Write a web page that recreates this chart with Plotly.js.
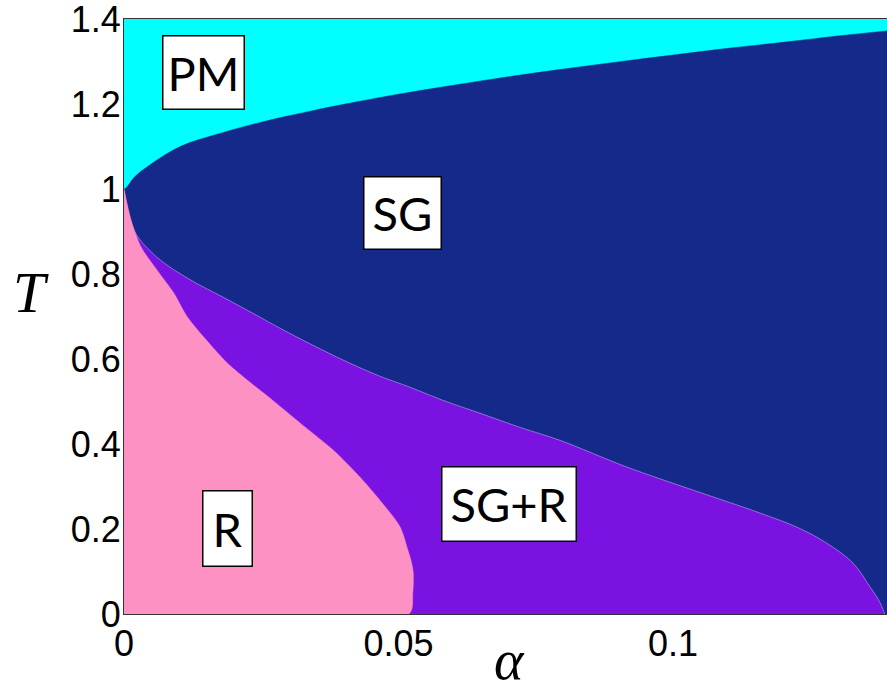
<!DOCTYPE html>
<html>
<head>
<meta charset="utf-8">
<script src="https://cdn.plot.ly/plotly-3.0.1.min.js"></script>
<style>html,body{margin:0;padding:0;background:#fff;}#chart{width:887px;height:681px;}</style>
</head>
<body>
<div id="chart"></div>
<script>
// PM / SG boundary
const alphaPM = [0, 0.0005, 0.002, 0.005, 0.0089, 0.012, 0.016, 0.02, 0.025, 0.03, 0.035, 0.04, 0.05, 0.06, 0.07, 0.08, 0.09, 0.1, 0.11, 0.12, 0.13, 0.139];
const tempPM  = [1.0, 1.005, 1.03, 1.06, 1.092, 1.11, 1.126, 1.141, 1.158, 1.173, 1.187, 1.2, 1.224, 1.245, 1.265, 1.283, 1.300, 1.316, 1.332, 1.346, 1.361, 1.373];

// SG / SG+R boundary
const alphaSG = [0, 0.0018, 0.006, 0.0122, 0.0182, 0.0242, 0.030, 0.0399, 0.0466, 0.0521, 0.0581, 0.0648, 0.0720, 0.0794, 0.0916, 0.1036, 0.1158, 0.1230, 0.1280, 0.1328, 0.1359, 0.1376, 0.1386];
const tempSG  = [1.0, 0.904, 0.84, 0.786, 0.745, 0.703, 0.662, 0.598, 0.560, 0.534, 0.503, 0.473, 0.440, 0.409, 0.346, 0.292, 0.238, 0.202, 0.167, 0.12, 0.064, 0.03, 0];

// R / SG+R boundary
const alphaR = [0, 0.0013, 0.0031, 0.006, 0.0091, 0.0115, 0.0150, 0.0188, 0.0230, 0.0271, 0.0330, 0.0381, 0.0430, 0.0466, 0.0503, 0.0517, 0.0524, 0.0527, 0.0526, 0.0519, 0];
const tempR  = [1.0, 0.927, 0.864, 0.81, 0.755, 0.70, 0.645, 0.591, 0.545, 0.503, 0.440, 0.386, 0.322, 0.268, 0.205, 0.151, 0.12, 0.096, 0.049, 0, 0];

// plot frame
const alphaMax = 0.139;
const tempMax = 1.401;

// region labels
const labelText  = ["PM", "SG", "R", "SG+R"];
const labelAlpha = [0.0144, 0.0508, 0.0189, 0.0702];
const labelTemp  = [1.275, 0.945, 0.202, 0.258];

const xTickVals = [0, 0.05, 0.1];
const xTickText = ["0", "0.05", "0.1"];
const yTickVals = [0, 0.2, 0.4, 0.6, 0.8, 1, 1.2, 1.4];
const yTickText = ["0", "0.2", "0.4", "0.6", "0.8", "1", "1.2", "1.4"];

const cyan = "#00ffff", navy = "#15298b", purple = "#7a12e2", pink = "#fe91c4";

const traces = [
  {x: [0, alphaMax], y: [tempMax, tempMax], type: "scatter", mode: "lines", fill: "tozeroy",
   fillcolor: cyan, line: {width: 0, color: cyan}, hoverinfo: "skip"},
  {x: alphaPM, y: tempPM, type: "scatter", mode: "lines", fill: "tozeroy",
   fillcolor: navy, line: {width: 0.5, color: navy, shape: "spline"}, hoverinfo: "skip"},
  {x: alphaSG, y: tempSG, type: "scatter", mode: "lines", fill: "tozeroy",
   fillcolor: purple, line: {width: 0.6, color: "#b9a6f0", shape: "spline"}, hoverinfo: "skip"},
  {x: alphaR, y: tempR, type: "scatter", mode: "lines", fill: "toself",
   fillcolor: pink, line: {width: 0.5, color: pink, shape: "spline", smoothing: 0.8}, hoverinfo: "skip"}
];

const boxW = [80, 76, 48, 133];
const boxH = [72, 71, 74, 73];
const annotations = labelText.map((t, i) => ({
  x: labelAlpha[i], y: labelTemp[i], xref: "x", yref: "y", text: t, showarrow: false,
  xanchor: "center", yanchor: "middle",
  font: {family: "Lato, 'Open Sans', sans-serif", size: 47, color: "#000"},
  bgcolor: "#fff", bordercolor: "#000", borderwidth: 1.5, borderpad: 0,
  width: boxW[i], height: boxH[i]
}));
annotations.push({
  x: -0.122, y: 0.541, xref: "paper", yref: "paper", text: "T", showarrow: false,
  xanchor: "center", yanchor: "middle",
  font: {family: "'Liberation Serif', 'DejaVu Serif', serif", size: 58, color: "#000", style: "italic"}
});
annotations.push({
  x: 0.5046, y: -0.0773, xref: "paper", yref: "paper", text: "α", showarrow: false,
  xanchor: "center", yanchor: "middle",
  font: {family: "'Liberation Serif', 'DejaVu Serif', serif", size: 56, color: "#000", style: "italic"}
});

const layout = {
  width: 887, height: 681,
  margin: {l: 124, r: 0, t: 19, b: 67},
  paper_bgcolor: "#fff", plot_bgcolor: "#fff",
  showlegend: false,
  xaxis: {
    range: [0, alphaMax], tickvals: xTickVals, ticktext: xTickText, ticks: "",
    showgrid: false, zeroline: false, showline: true, linecolor: "#333", linewidth: 1, mirror: true,
    tickfont: {family: "'Liberation Sans', Arial, sans-serif", size: 36, color: "#000"},
    ticklabelstandoff: -2, ticklabeloverflow: "allow"
  },
  yaxis: {
    range: [0, tempMax], tickvals: yTickVals, ticktext: yTickText, ticks: "",
    showgrid: false, zeroline: false, showline: true, linecolor: "#333", linewidth: 1, mirror: true,
    tickfont: {family: "'Liberation Sans', Arial, sans-serif", size: 36, color: "#000"},
    ticklabelstandoff: -5, ticklabeloverflow: "allow"
  },
  annotations: annotations
};

Plotly.newPlot("chart", traces, layout, {staticPlot: true, displayModeBar: false});
</script>
</body>
</html>
